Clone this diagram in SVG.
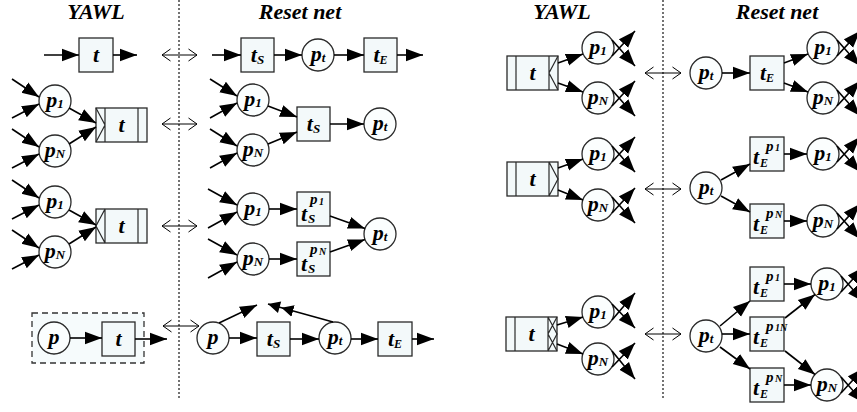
<svg xmlns="http://www.w3.org/2000/svg" width="857" height="412" viewBox="0 0 857 412">
<defs>
<style>
.box{fill:#f3f9fa;stroke:#2a2a2a;stroke-width:1.3}
.pl{fill:#fbfefe;stroke:#2a2a2a;stroke-width:1.3}
.dec{fill:none;stroke:#2a2a2a;stroke-width:1.2}
.grp{fill:#f6fbfc;stroke:#333;stroke-width:1.3;stroke-dasharray:6 4}
.arc{fill:none;stroke:#000;stroke-width:1.6;marker-end:url(#ah)}
.rst{fill:none;stroke:#000;stroke-width:1.6;marker-end:url(#ah2)}
.eq{fill:none;stroke:#000;stroke-width:1;marker-start:url(#oh);marker-end:url(#oh)}
.div{stroke:#444;stroke-width:1.5;stroke-dasharray:2 2}
text{font-family:'Liberation Serif','DejaVu Serif',serif;font-weight:700;font-style:italic;fill:#000;font-size:22px}
.lb{text-anchor:middle}
.ttl{text-anchor:middle;font-size:22px}
.s{font-size:13px}
.e{font-size:12px}
.sp{font-size:15px}
.ss{font-size:10px}
</style>
<marker id="ah" markerUnits="userSpaceOnUse" markerWidth="18" markerHeight="14" refX="17" refY="7" orient="auto"><path d="M0,0.8 L17,7 L0,13.2 z" fill="#000"/></marker>
<marker id="ah2" markerUnits="userSpaceOnUse" markerWidth="28" markerHeight="13" refX="26" refY="6.5" orient="auto"><path d="M0,0.5 L12,6.5 L0,12.5 z M14,0.5 L26,6.5 L14,12.5 z" fill="#000"/></marker>
<marker id="oh" markerUnits="userSpaceOnUse" markerWidth="11" markerHeight="15" refX="9.5" refY="7" orient="auto-start-reverse"><path d="M1,1 L9.5,7 L1,13" fill="none" stroke="#000" stroke-width="1"/></marker>
</defs>

<g id="titles">
<text class="ttl" x="96" y="19">YAWL</text>
<text class="ttl" x="300" y="19">Reset net</text>
<text class="ttl" x="562" y="19">YAWL</text>
<text class="ttl" x="777" y="19">Reset net</text>
</g>
<g id="dividers">
<line class="div" x1="179" y1="0" x2="179" y2="398"/>
<line class="div" x1="663" y1="0" x2="663" y2="398"/>
</g>

<!-- ===== Left column nodes ===== -->
<g id="L1-t"><rect class="box" x="79" y="38" width="34" height="34"/><text class="lb" x="96" y="62">t</text></g>
<g id="L1r-ts"><rect class="box" x="241" y="38" width="33" height="34"/><text class="lb" x="257.5" y="62">t<tspan class="s" dy="2">S</tspan></text></g>
<g id="L1r-pt"><circle class="pl" cx="318" cy="55" r="16"/><text class="lb" x="318" y="61">p<tspan class="s" dy="1">t</tspan></text></g>
<g id="L1r-te"><rect class="box" x="364" y="38" width="33" height="34"/><text class="lb" x="380.5" y="62">t<tspan class="e" dy="2">E</tspan></text></g>

<g id="L2-p1"><circle class="pl" cx="55" cy="101" r="16"/><text class="lb" x="55" y="107">p<tspan class="s" dy="1">1</tspan></text></g>
<g id="L2-pN"><circle class="pl" cx="55" cy="151" r="16"/><text class="lb" x="55" y="157">p<tspan class="s" dy="1">N</tspan></text></g>
<g id="L2-t"><rect class="box" x="96" y="108" width="51" height="34"/><path class="dec" d="M105,108 V142 M138,108 V142 M96,108 L105,125 L96,142"/><text class="lb" x="121.5" y="132">t</text></g>
<g id="L2r-p1"><circle class="pl" cx="253" cy="100" r="16"/><text class="lb" x="253" y="106">p<tspan class="s" dy="1">1</tspan></text></g>
<g id="L2r-pN"><circle class="pl" cx="253" cy="150" r="16"/><text class="lb" x="253" y="156">p<tspan class="s" dy="1">N</tspan></text></g>
<g id="L2r-ts"><rect class="box" x="297" y="107" width="33" height="34"/><text class="lb" x="313.5" y="131">t<tspan class="s" dy="2">S</tspan></text></g>
<g id="L2r-pt"><circle class="pl" cx="380" cy="124" r="16"/><text class="lb" x="380" y="130">p<tspan class="s" dy="1">t</tspan></text></g>

<g id="L3-p1"><circle class="pl" cx="55" cy="202" r="16"/><text class="lb" x="55" y="208">p<tspan class="s" dy="1">1</tspan></text></g>
<g id="L3-pN"><circle class="pl" cx="55" cy="252" r="16"/><text class="lb" x="55" y="258">p<tspan class="s" dy="1">N</tspan></text></g>
<g id="L3-t"><rect class="box" x="96" y="209" width="51" height="34"/><path class="dec" d="M105,209 V243 M138,209 V243 M105,209 L96,226 L105,243"/><text class="lb" x="121.5" y="233">t</text></g>
<g id="L3r-p1"><circle class="pl" cx="253" cy="209" r="16"/><text class="lb" x="253" y="215">p<tspan class="s" dy="1">1</tspan></text></g>
<g id="L3r-pN"><circle class="pl" cx="253" cy="259" r="16"/><text class="lb" x="253" y="265">p<tspan class="s" dy="1">N</tspan></text></g>
<g id="L3r-ts1"><rect class="box" x="297" y="192" width="33" height="34"/><text><tspan x="301" y="221">t</tspan><tspan class="s" x="308" y="223">S</tspan><tspan class="sp" x="310" y="204">p</tspan><tspan class="ss" x="319" y="205">1</tspan></text></g>
<g id="L3r-tsN"><rect class="box" x="297" y="242" width="33" height="34"/><text><tspan x="301" y="271">t</tspan><tspan class="s" x="308" y="273">S</tspan><tspan class="sp" x="310" y="254">p</tspan><tspan class="ss" x="319" y="255">N</tspan></text></g>
<g id="L3r-pt"><circle class="pl" cx="380" cy="234" r="16"/><text class="lb" x="380" y="240">p<tspan class="s" dy="1">t</tspan></text></g>

<g id="L4-group"><rect class="grp" x="32" y="313" width="112" height="50"/></g>
<g id="L4-p"><circle class="pl" cx="54" cy="338" r="16"/><text class="lb" x="54" y="344">p</text></g>
<g id="L4-t"><rect class="box" x="102" y="322" width="33" height="34"/><text class="lb" x="118.5" y="346">t</text></g>
<g id="L4r-p"><circle class="pl" cx="213" cy="338" r="16"/><text class="lb" x="213" y="344">p</text></g>
<g id="L4r-ts"><rect class="box" x="257" y="322" width="33" height="34"/><text class="lb" x="273.5" y="346">t<tspan class="s" dy="2">S</tspan></text></g>
<g id="L4r-pt"><circle class="pl" cx="335" cy="338" r="16"/><text class="lb" x="335" y="344">p<tspan class="s" dy="1">t</tspan></text></g>
<g id="L4r-te"><rect class="box" x="378" y="322" width="34" height="34"/><text class="lb" x="395" y="346">t<tspan class="e" dy="2">E</tspan></text></g>

<!-- ===== Right column nodes ===== -->
<g id="R1-t"><rect class="box" x="507" y="56" width="51" height="34"/><path class="dec" d="M516,56 V90 M549,56 V90 M558,56 L549,73 L558,90"/><text class="lb" x="532.5" y="80">t</text></g>
<g id="R1-p1"><circle class="pl" cx="598" cy="48" r="16"/><text class="lb" x="598" y="54">p<tspan class="s" dy="1">1</tspan></text></g>
<g id="R1-pN"><circle class="pl" cx="598" cy="98" r="16"/><text class="lb" x="598" y="104">p<tspan class="s" dy="1">N</tspan></text></g>
<g id="R1r-pt"><circle class="pl" cx="706" cy="73" r="16"/><text class="lb" x="706" y="79">p<tspan class="s" dy="1">t</tspan></text></g>
<g id="R1r-te"><rect class="box" x="750" y="56" width="34" height="34"/><text class="lb" x="767" y="80">t<tspan class="e" dy="2">E</tspan></text></g>
<g id="R1r-p1"><circle class="pl" cx="823" cy="48" r="16"/><text class="lb" x="823" y="54">p<tspan class="s" dy="1">1</tspan></text></g>
<g id="R1r-pN"><circle class="pl" cx="823" cy="98" r="16"/><text class="lb" x="823" y="104">p<tspan class="s" dy="1">N</tspan></text></g>

<g id="R2-t"><rect class="box" x="507" y="162" width="51" height="34"/><path class="dec" d="M516,162 V196 M549,162 V196 M549,162 L558,179 L549,196"/><text class="lb" x="532.5" y="186">t</text></g>
<g id="R2-p1"><circle class="pl" cx="598" cy="154" r="16"/><text class="lb" x="598" y="160">p<tspan class="s" dy="1">1</tspan></text></g>
<g id="R2-pN"><circle class="pl" cx="598" cy="205" r="16"/><text class="lb" x="598" y="211">p<tspan class="s" dy="1">N</tspan></text></g>
<g id="R2r-pt"><circle class="pl" cx="706" cy="188" r="16"/><text class="lb" x="706" y="194">p<tspan class="s" dy="1">t</tspan></text></g>
<g id="R2r-te1"><rect class="box" x="750" y="137" width="34" height="34"/><text><tspan x="753" y="164">t</tspan><tspan class="e" x="760" y="167">E</tspan><tspan class="sp" x="766" y="151">p</tspan><tspan class="ss" x="775" y="151">1</tspan></text></g>
<g id="R2r-teN"><rect class="box" x="750" y="204" width="34" height="34"/><text><tspan x="753" y="231">t</tspan><tspan class="e" x="760" y="234">E</tspan><tspan class="sp" x="766" y="218">p</tspan><tspan class="ss" x="775" y="218">N</tspan></text></g>
<g id="R2r-p1"><circle class="pl" cx="823" cy="154" r="16"/><text class="lb" x="823" y="160">p<tspan class="s" dy="1">1</tspan></text></g>
<g id="R2r-pN"><circle class="pl" cx="823" cy="221" r="16"/><text class="lb" x="823" y="227">p<tspan class="s" dy="1">N</tspan></text></g>

<g id="R3-t"><rect class="box" x="506" y="317" width="51" height="34"/><path class="dec" d="M515,317 V351 M548,317 V351 M548,317 L557,334 L548,351 M557,317 L548,334 L557,351"/><text class="lb" x="531.5" y="341">t</text></g>
<g id="R3-p1"><circle class="pl" cx="598" cy="312" r="16"/><text class="lb" x="598" y="318">p<tspan class="s" dy="1">1</tspan></text></g>
<g id="R3-pN"><circle class="pl" cx="598" cy="359" r="16"/><text class="lb" x="598" y="365">p<tspan class="s" dy="1">N</tspan></text></g>
<g id="R3r-pt"><circle class="pl" cx="706" cy="336" r="16"/><text class="lb" x="706" y="342">p<tspan class="s" dy="1">t</tspan></text></g>
<g id="R3r-te1"><rect class="box" x="750" y="267" width="34" height="34"/><text><tspan x="753" y="294">t</tspan><tspan class="e" x="760" y="297">E</tspan><tspan class="sp" x="766" y="281">p</tspan><tspan class="ss" x="775" y="281">1</tspan></text></g>
<g id="R3r-te1N"><rect class="box" x="750" y="317" width="34" height="34"/><text><tspan x="753" y="344">t</tspan><tspan class="e" x="760" y="347">E</tspan><tspan class="sp" x="766" y="331">p</tspan><tspan class="ss" x="775" y="331">1N</tspan></text></g>
<g id="R3r-teN"><rect class="box" x="750" y="368" width="34" height="34"/><text><tspan x="753" y="395">t</tspan><tspan class="e" x="760" y="398">E</tspan><tspan class="sp" x="766" y="382">p</tspan><tspan class="ss" x="775" y="382">N</tspan></text></g>
<g id="R3r-p1"><circle class="pl" cx="827" cy="284" r="16"/><text class="lb" x="827" y="290">p<tspan class="s" dy="1">1</tspan></text></g>
<g id="R3r-pN"><circle class="pl" cx="827" cy="385" r="16"/><text class="lb" x="827" y="391">p<tspan class="s" dy="1">N</tspan></text></g>

<!-- ===== Connectors ===== -->
<g id="connectors">
<path class="arc" d="M44,55 L79,55"/>
<path class="arc" d="M113,55 L137,55"/>
<path class="eq" d="M162,55 L197,55"/>
<path class="arc" d="M212,55 L241,55"/>
<path class="arc" d="M274,55 L302,55"/>
<path class="arc" d="M334,55 L364,55"/>
<path class="arc" d="M397,55 L423,55"/>
<path class="arc" d="M12,79 L39,97"/>
<path class="arc" d="M12,118 L39,104"/>
<path class="arc" d="M12,129 L39,147"/>
<path class="arc" d="M12,168 L39,154"/>
<path class="arc" d="M69,108 L96,123"/>
<path class="arc" d="M69,144 L96,127"/>
<path class="eq" d="M162,124 L197,124"/>
<path class="arc" d="M210,79 L237,96"/>
<path class="arc" d="M210,118 L237,103"/>
<path class="arc" d="M210,129 L237,146"/>
<path class="arc" d="M210,168 L237,153"/>
<path class="arc" d="M268,106 L297,117"/>
<path class="arc" d="M268,144 L297,132"/>
<path class="arc" d="M330,124 L364,124"/>
<path class="arc" d="M12,180 L39,198"/>
<path class="arc" d="M12,219 L39,205"/>
<path class="arc" d="M12,230 L39,248"/>
<path class="arc" d="M12,269 L39,255"/>
<path class="arc" d="M69,210 L96,225"/>
<path class="arc" d="M69,244 L96,227"/>
<path class="eq" d="M162,226 L197,226"/>
<path class="arc" d="M208,189 L237,205"/>
<path class="arc" d="M208,228 L237,212"/>
<path class="arc" d="M208,239 L237,255"/>
<path class="arc" d="M208,278 L237,262"/>
<path class="arc" d="M269,209 L297,209"/>
<path class="arc" d="M269,259 L297,259"/>
<path class="arc" d="M330,216 L365,228.5"/>
<path class="arc" d="M330,252 L365,239.5"/>
<path class="arc" d="M70,338 L102,338"/>
<path class="arc" d="M135,339 L167,339"/>
<path class="eq" d="M163,326 L199,326"/>
<path class="arc" d="M229,338 L257,338"/>
<path class="arc" d="M290,339 L319,339"/>
<path class="arc" d="M351,339 L378,339"/>
<path class="arc" d="M412,339 L434,339"/>
<path class="arc" d="M219,323 L257,305"/>
<path class="rst" d="M333,322 L268,304"/>
<path class="arc" d="M558,63 L583,54"/>
<path class="arc" d="M558,83 L583,92"/>
<path class="arc" d="M612,56 L635,31"/>
<path class="arc" d="M612,40 L635,66"/>
<path class="arc" d="M612,106 L635,81"/>
<path class="arc" d="M612,90 L635,116"/>
<path class="eq" d="M645,73 L681,73"/>
<path class="arc" d="M722,73 L750,73"/>
<path class="arc" d="M784,63 L808,54"/>
<path class="arc" d="M784,83 L808,92"/>
<path class="arc" d="M837,56 L860,31"/>
<path class="arc" d="M837,40 L860,66"/>
<path class="arc" d="M837,106 L860,81"/>
<path class="arc" d="M837,90 L860,116"/>
<path class="arc" d="M558,168 L583,159"/>
<path class="arc" d="M558,190 L583,200"/>
<path class="arc" d="M612,162 L635,137"/>
<path class="arc" d="M612,146 L635,172"/>
<path class="arc" d="M612,213 L635,188"/>
<path class="arc" d="M612,197 L635,223"/>
<path class="eq" d="M645,189 L681,189"/>
<path class="arc" d="M721,180 L750,164"/>
<path class="arc" d="M721,196 L750,212"/>
<path class="arc" d="M784,154 L807,154"/>
<path class="arc" d="M784,221 L807,221"/>
<path class="arc" d="M837,162 L860,137"/>
<path class="arc" d="M837,146 L860,172"/>
<path class="arc" d="M837,229 L860,204"/>
<path class="arc" d="M837,213 L860,239"/>
<path class="arc" d="M557,325 L583,317"/>
<path class="arc" d="M557,344 L583,354"/>
<path class="arc" d="M612,320 L635,293"/>
<path class="arc" d="M612,304 L635,328"/>
<path class="arc" d="M612,367 L635,343"/>
<path class="arc" d="M612,351 L635,379"/>
<path class="eq" d="M645,334 L681,334"/>
<path class="arc" d="M720,326 L750,301"/>
<path class="arc" d="M722,334 L750,334"/>
<path class="arc" d="M720,347 L750,369"/>
<path class="arc" d="M784,284 L811,284"/>
<path class="arc" d="M784,385 L811,385"/>
<path class="arc" d="M785,318 L815,294.5"/>
<path class="arc" d="M785,351 L815,374.5"/>
<path class="arc" d="M841,292 L864,267"/>
<path class="arc" d="M841,276 L864,302"/>
<path class="arc" d="M841,393 L864,368"/>
<path class="arc" d="M841,377 L864,403"/>
</g>
</svg>
